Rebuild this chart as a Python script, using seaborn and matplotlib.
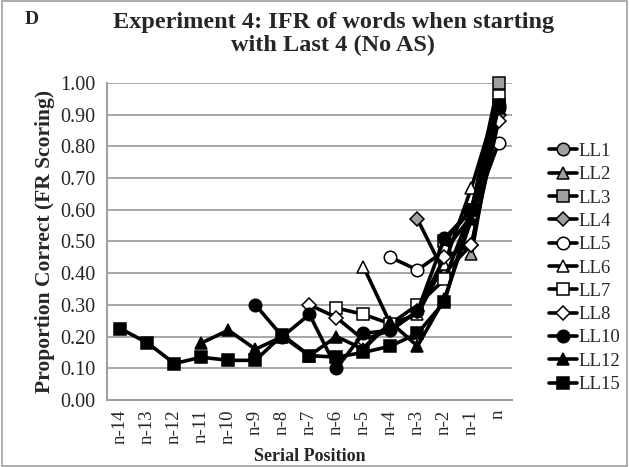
import numpy as np
import pandas as pd
import matplotlib
matplotlib.use("Agg")
import matplotlib.pyplot as plt
import seaborn as sns
from matplotlib.lines import Line2D
from matplotlib.patches import Rectangle

# ------------------------------------------
# Data
# ------------------------------------------
positions = ["n-14", "n-13", "n-12", "n-11", "n-10", "n-9", "n-8", "n-7",
             "n-6", "n-5", "n-4", "n-3", "n-2", "n-1", "n"]

# each list ends at position "n"
ll1 = [0.92]
ll2 = [0.46, 0.94]
ll3 = [0.50, 0.60, 1.00]
ll4 = [0.57, 0.40, 0.49, 0.90]
ll5 = [0.45, 0.41, 0.47, 0.58, 0.81]
ll6 = [0.42, 0.24, 0.27, 0.43, 0.67, 0.95]
ll7 = [0.29, 0.27, 0.24, 0.30, 0.38, 0.60, 0.96]
ll8 = [0.30, 0.26, 0.19, 0.22, 0.28, 0.45, 0.49, 0.88]
ll10 = [0.30, 0.20, 0.27, 0.10, 0.21, 0.22, 0.28, 0.51, 0.60, 0.93]
ll12 = [0.18, 0.22, 0.16, 0.20, 0.14, 0.20, 0.16, 0.245, 0.17, 0.32, 0.57, 0.92]
ll15 = [0.225, 0.18, 0.115, 0.135, 0.125, 0.125, 0.205, 0.14, 0.135, 0.15,
        0.17, 0.21, 0.31, 0.60, 0.93]

series_names = ["LL1", "LL2", "LL3", "LL4", "LL5", "LL6", "LL7", "LL8",
                "LL10", "LL12", "LL15"]
series_values = [ll1, ll2, ll3, ll4, ll5, ll6, ll7, ll8, ll10, ll12, ll15]

GRAY = "#a0a0a0"
markers = ["o", "^", "s", "D", "o", "^", "s", "D", "o", "^", "s"]
faces = [GRAY] * 4 + ["white"] * 4 + ["black"] * 3

rows = []
for name, vals in zip(series_names, series_values):
    start = len(positions) - len(vals)
    for i, v in enumerate(vals):
        rows.append({"series": name, "pos": start + i, "value": v})
df = pd.DataFrame(rows)

# ------------------------------------------
# Plot
# ------------------------------------------
sns.set_style("white")
plt.rcParams["font.family"] = ["Liberation Serif", "DejaVu Serif"]

fig = plt.figure(figsize=(6.29, 4.67), dpi=100)
ax = fig.add_axes([0.170, 0.1435, 0.644, 0.679])

handles = []
for k, (name, m, fc) in enumerate(zip(series_names, markers, faces)):
    ms = 7.5 if m == "D" else 9
    sub = df[df["series"] == name]
    sns.lineplot(data=sub, x="pos", y="value", ax=ax, color="black",
                 linewidth=2.6, marker=m, markersize=ms, markerfacecolor=fc,
                 markeredgecolor="black", markeredgewidth=1.1,
                 legend=False, zorder=3 + k, clip_on=False)
    handles.append(Line2D([0], [0], color="black", linewidth=2.6, marker=m,
                          markersize=ms, markerfacecolor=fc,
                          markeredgecolor="black", markeredgewidth=1.1))

ax.set_xlim(-0.5, len(positions) - 0.5)
ax.set_ylim(0, 1.0)
ax.set_yticks(np.arange(0, 1.01, 0.1))
ax.set_yticklabels([f"{v:.2f}" for v in np.arange(0, 1.01, 0.1)], fontsize=14.5)
ax.set_xticks(range(len(positions)))
ax.set_xticklabels(positions, rotation=90, fontsize=13.5)
ax.set_xticks(np.arange(-0.5, len(positions), 1), minor=True)
ax.tick_params(axis="x", which="major", length=0, pad=7)
ax.tick_params(axis="x", which="minor", length=5, color=GRAY, width=1.2)
ax.tick_params(axis="y", length=5, color=GRAY, width=1.2, pad=3)

ax.yaxis.grid(True, color=GRAY, linewidth=1.3)
ax.set_axisbelow(True)
for s in ["top", "right"]:
    ax.spines[s].set_visible(False)
for s in ["left", "bottom"]:
    ax.spines[s].set_color(GRAY)
    ax.spines[s].set_linewidth(1.5)

ax.set_xlabel("Serial Position", fontsize=13, fontweight="bold", labelpad=3)
ax.set_ylabel("Proportion Correct (FR Scoring)", fontsize=15.5,
              fontweight="bold", labelpad=4)

fig.text(0.53, 1 - 34 / 467, "Experiment 4: IFR of words when starting\nwith Last 4 (No AS)",
         ha="center", va="center", fontsize=17.5, fontweight="bold", linespacing=1.15)
fig.text(32 / 629, 1 - 20 / 467, "D", ha="center", va="center",
         fontsize=14, fontweight="bold")

fig.legend(handles, series_names, loc="center left",
           bbox_to_anchor=(541 / 629, 1 - 268 / 467), frameon=False,
           fontsize=13.5, handlelength=1.5, handletextpad=0.1,
           labelspacing=0.33, borderaxespad=0)

fig.patches.append(Rectangle((0.003, 0.003), 0.994, 0.994,
                             transform=fig.transFigure, fill=False,
                             edgecolor=GRAY, linewidth=1.2))

plt.savefig("out.png", dpi=100)
plt.close()
